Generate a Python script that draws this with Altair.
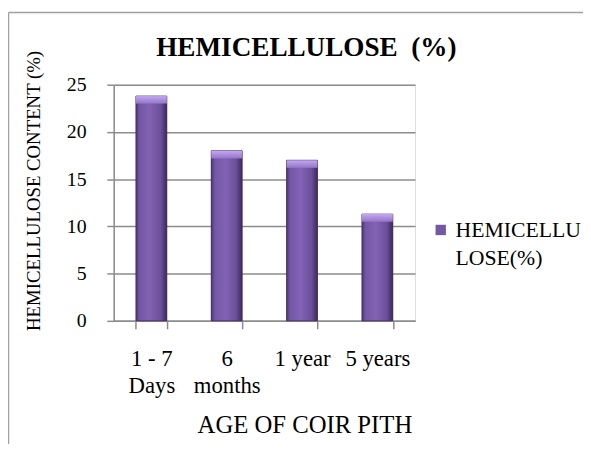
import altair as alt
import pandas as pd

categories = ["1 - 7 Days", "6 months", "1 year", "5 years"]
values = [23.8, 18.0, 17.0, 11.3]
series_name = "HEMICELLULOSE(%)"
y_ticks = [0, 5, 10, 15, 20, 25]
chart_title = "HEMICELLULOSE\u00a0\u00a0(%)"

df = pd.DataFrame({"age": categories, "value": values, "series": [series_name] * len(categories)})

FONT = "Liberation Serif"
GRID = "#8c8c8c"

x_enc = alt.X(
    "age:N",
    sort=categories,
    scale=alt.Scale(paddingInner=0.59, paddingOuter=0.295),
    axis=alt.Axis(
        title="AGE OF COIR PITH",
        labelAngle=0,
        labelExpr="datum.value == '1 - 7 Days' ? ['1 - 7', 'Days'] : datum.value == '6 months' ? ['6', 'months'] : datum.label",
        labelFont=FONT, labelFontSize=23, labelColor="black", labelLineHeight=28,
        labelPadding=19, labelBaseline="top",
        tickBand="extent", tickSize=8, tickColor=GRID, tickWidth=1.5,
        domainColor=GRID, domainWidth=1.5,
        titleFont=FONT, titleFontSize=25, titleFontWeight="normal", titleColor="black",
        titleX=193, titleY=113, titleBaseline="alphabetic", titleAnchor="start", titleAlign="center",
    ),
)

y_enc = alt.Y(
    "value:Q",
    scale=alt.Scale(domain=[0, 25], nice=False),
    axis=alt.Axis(
        title="HEMICELLULOSE CONTENT (%)",
        values=y_ticks,
        labelFont=FONT, labelFontSize=20, labelColor="black", labelPadding=21,
        tickSize=7, tickColor=GRID, tickWidth=1.5,
        domainColor=GRID, domainWidth=1.5,
        grid=True, gridColor=GRID, gridWidth=1.5,
        titleFont=FONT, titleFontSize=19, titleFontWeight="normal", titleColor="black",
        titleX=-75, titleY=107, titleAngle=-90, titleBaseline="alphabetic", titleAlign="center",
    ),
)

base = alt.Chart(df)

legend_bars = base.mark_bar().encode(
    x=x_enc,
    y=y_enc,
    color=alt.Color(
        "series:N",
        scale=alt.Scale(range=["#7558a4"]),
        legend=alt.Legend(
            title=None, orient="none", legendX=320, legendY=136,
            symbolType="square", symbolSize=110, symbolStrokeWidth=0,
            labelFont=FONT, labelFontSize=22, labelColor="black",
            labelExpr="[slice(datum.label, 0, 9), slice(datum.label, 9)]",
            labelOffset=4, labelLimit=300,
        ),
    ),
)

grad = {
    "gradient": "linear", "x1": 0, "x2": 1, "y1": 0, "y2": 0,
    "stops": [
        {"offset": 0, "color": "#4c3775"},
        {"offset": 0.12, "color": "#7457a6"},
        {"offset": 0.45, "color": "#8262b4"},
        {"offset": 0.8, "color": "#6c509b"},
        {"offset": 1, "color": "#3a2a5c"},
    ],
}
body = base.mark_bar(fill=grad, stroke="#3a2a5c", strokeWidth=0.8).encode(x=x_enc, y=y_enc)

top_grad = {
    "gradient": "linear", "x1": 0, "x2": 0, "y1": 0, "y2": 1,
    "stops": [
        {"offset": 0, "color": "#c3a8f0"},
        {"offset": 1, "color": "#9474c8"},
    ],
}
bevel = base.transform_calculate(top2="datum.value - 0.8").mark_bar(fill=top_grad).encode(
    x=x_enc, y=y_enc, y2="top2:Q"
)

one = pd.DataFrame({"label": [chart_title]})
title_mark = alt.Chart(one).mark_text(
    font=FONT, fontSize=27.5, fontWeight="bold", color="black", align="center", baseline="alphabetic"
).encode(text="label:N", x=alt.value(195), y=alt.value(-29))

frame_left = alt.Chart(one).mark_rule(color="#a0a0a0", strokeWidth=1.5).encode(
    x=alt.value(-106.5), y=alt.value(-73), y2=alt.value(380)
)
frame_top = alt.Chart(one).mark_rule(color="#a0a0a0", strokeWidth=1.5).encode(
    x=alt.value(-106.5), x2=alt.value(480), y=alt.value(-73)
)

chart = alt.layer(legend_bars, body, bevel, title_mark, frame_left, frame_top).properties(
    width=305,
    height=239,
    autosize=alt.AutoSizeParams(type="none"),
    padding={"left": 107, "top": 75, "right": 170, "bottom": 122},
).configure_view(stroke=None).configure(
    background="white",
    style={"guide-label": {"lineHeight": 28}},
)

chart.save("out.html", embed_options={"renderer": "svg", "actions": False})
